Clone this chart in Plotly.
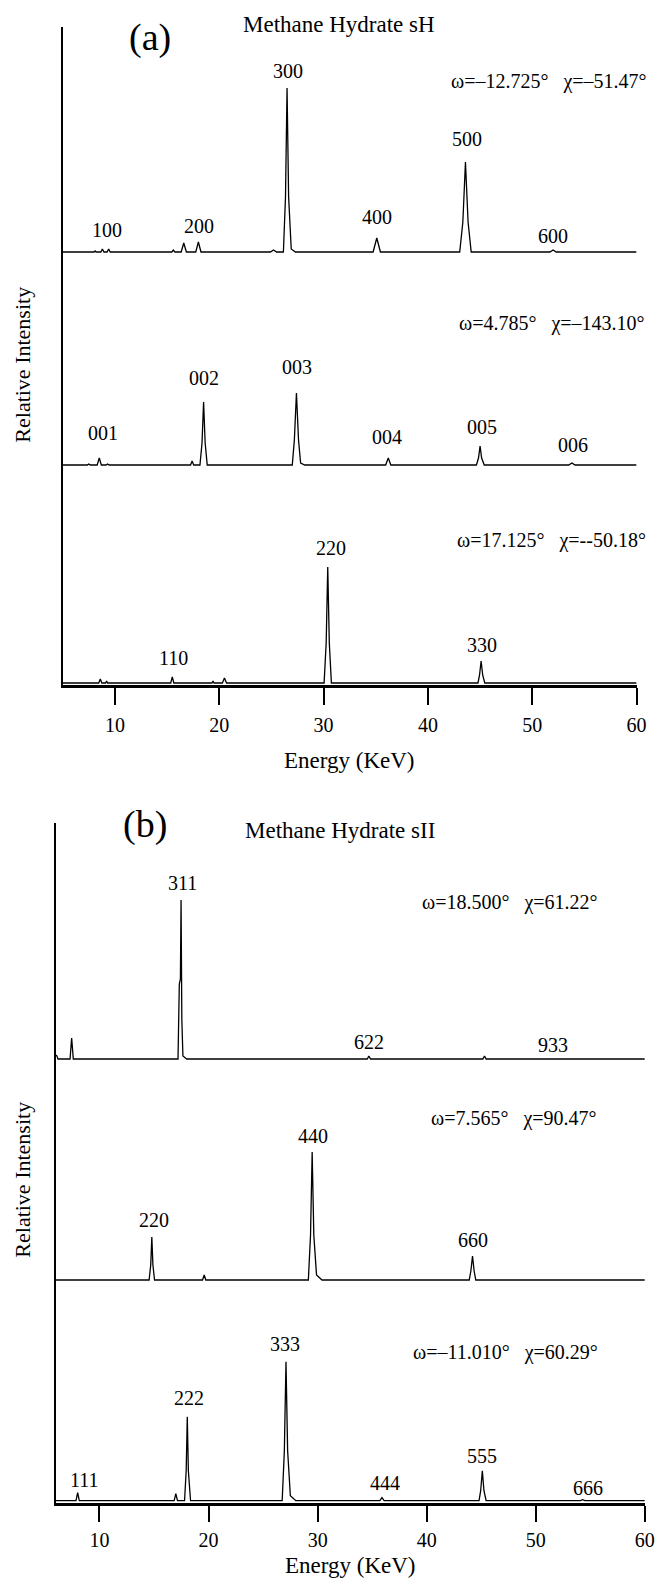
import plotly.graph_objects as go

# ---------------- data ----------------
# Panel (a): Methane Hydrate sH   (x: energy keV, y: relative intensity, arb. units)
a1_x = [5.0, 8.0, 8.1, 8.2, 8.65, 8.8, 8.95, 9.25, 9.4, 9.55, 15.45, 15.6, 15.75, 16.35, 16.6, 16.85,
        17.75, 18.0, 18.25, 24.9, 25.2, 25.5, 26.15, 26.35, 26.5, 26.65, 26.9, 27.3, 34.75, 35.1, 35.45,
        43.05, 43.35, 43.6, 43.85, 44.15, 51.7, 52.0, 52.3, 60.0]
a1_y = [0, 0, 1, 0, 0, 3, 0, 0, 3, 0, 0, 2, 0, 0, 9, 0,
        0, 10, 0, 0, 2, 0, 0, 55, 164, 55, 3, 0, 0, 14, 0,
        0, 30, 90, 30, 0, 0, 2, 0, 0]

a2_x = [5.0, 7.35, 7.5, 7.65, 8.3, 8.5, 8.7, 9.15, 9.3, 9.45, 17.25, 17.4, 17.55, 18.15, 18.35, 18.5,
        18.65, 18.85, 27.0, 27.2, 27.4, 27.6, 27.8, 28.2, 35.95, 36.2, 36.45, 44.65, 44.85, 45.0, 45.15,
        45.4, 53.5, 53.8, 54.1, 60.0]
a2_y = [0, 0, 1, 0, 0, 7, 0, 0, 1, 0, 0, 4, 0, 0, 22, 63,
        22, 0, 0, 25, 72, 25, 2, 0, 0, 7, 0, 0, 7, 19, 7,
        0, 0, 2, 0, 0]

a3_x = [5.0, 8.45, 8.6, 8.75, 9.1, 9.2, 9.3, 15.35, 15.5, 15.65, 19.3, 19.4, 19.5, 20.3, 20.5, 20.7,
        30.05, 30.25, 30.4, 30.55, 30.75, 44.8, 44.95, 45.1, 45.25, 45.45, 60.0]
a3_y = [0, 0, 4, 0, 0, 2, 0, 0, 6, 0, 0, 2, 0, 0, 5, 0,
        0, 40, 116, 40, 0, 0, 8, 22, 8, 0, 0]

# Panel (b): Methane Hydrate sII
b1_x = [6.0, 6.1, 6.2, 7.3, 7.45, 7.6, 17.2, 17.32, 17.42, 17.48, 17.55, 17.65, 18.0,
        34.55, 34.7, 34.85, 45.15, 45.3, 45.45, 60.0]
b1_y = [4, 3, 0, 0, 21, 0, 0, 75, 80, 159, 40, 3, 0,
        0, 3, 0, 0, 3, 0, 0]

b2_x = [6.0, 14.55, 14.7, 14.8, 14.9, 15.05, 19.45, 19.6, 19.75, 29.15, 29.35, 29.5, 29.65, 29.9,
        30.4, 43.9, 44.05, 44.2, 44.35, 44.5, 60.0]
b2_y = [0, 0, 15, 43, 15, 0, 0, 5, 0, 0, 45, 128, 45, 5,
        0, 0, 9, 24, 9, 0, 0]

b3_x = [6.0, 7.85, 8.0, 8.15, 16.85, 17.0, 17.15, 17.8, 17.95, 18.05, 18.15, 18.35, 26.75, 26.95,
        27.1, 27.25, 27.5, 28.0, 35.7, 35.9, 36.1, 44.8, 44.95, 45.1, 45.25, 45.45, 54.1, 54.3, 54.5, 60.0]
b3_y = [0, 0, 8, 0, 0, 7, 0, 0, 30, 84, 30, 0, 0, 50,
        139, 50, 5, 0, 0, 3, 0, 0, 10, 30, 10, 0, 0, 1, 0, 0]

# vertical offsets of the stacked spectra
a_offsets = [433, 220, 2]
b_offsets = [444, 223, 2.3]

# peak (hkl) labels: (label, energy, height of label in plot units)
a_labels = [("100", 9.2, 455), ("200", 18.1, 459), ("300", 26.6, 614), ("400", 35.1, 468),
            ("500", 43.7, 546), ("600", 52.0, 449),
            ("001", 8.9, 252), ("002", 18.5, 307), ("003", 27.5, 318), ("004", 36.1, 248),
            ("005", 45.2, 258), ("006", 53.9, 240),
            ("110", 15.6, 27), ("220", 30.7, 137), ("330", 45.2, 40)]
b_labels = [("311", 17.6, 620), ("622", 34.7, 461), ("933", 51.6, 458),
            ("220", 15.0, 283), ("440", 29.6, 367), ("660", 44.2, 263),
            ("111", 8.6, 23), ("222", 18.2, 105), ("333", 27.0, 159), ("444", 36.2, 20),
            ("555", 45.1, 47), ("666", 54.8, 15)]

a_angles = [("ω=–12.725°\u00a0\u00a0 χ=–51.47°", 51.6, 603),
            ("ω=4.785°\u00a0\u00a0 χ=–143.10°", 51.9, 361),
            ("ω=17.125°\u00a0\u00a0 χ=--50.18°", 51.8, 145)]
b_angles = [("ω=18.500°\u00a0\u00a0 χ=61.22°", 47.6, 601),
            ("ω=7.565°\u00a0\u00a0 χ=90.47°", 48.0, 385),
            ("ω=–11.010°\u00a0\u00a0 χ=60.29°", 47.2, 151)]

x_ticks = [10, 20, 30, 40, 50, 60]
a_xrange = [5, 60]
b_xrange = [6, 60]

# ---------------- figure ----------------
FONT = "Liberation Serif, Times New Roman, serif"
W, H = 664, 1580
fig = go.Figure()

line = dict(color="black", width=1.3)
for (xs, ys), off in zip([(a1_x, a1_y), (a2_x, a2_y), (a3_x, a3_y)], a_offsets):
    fig.add_trace(go.Scatter(x=xs, y=[v + off for v in ys], mode="lines", line=line,
                             xaxis="x", yaxis="y", showlegend=False, hoverinfo="skip"))
for (xs, ys), off in zip([(b1_x, b1_y), (b2_x, b2_y), (b3_x, b3_y)], b_offsets):
    fig.add_trace(go.Scatter(x=xs, y=[v + off for v in ys], mode="lines", line=line,
                             xaxis="x2", yaxis="y2", showlegend=False, hoverinfo="skip"))

def px(x):
    return x / W

def py(y):
    return 1 - y / H

xa = dict(tickmode="array", tickvals=x_ticks, ticks="outside", tickwidth=1.6,
          tickcolor="black", showline=True, linecolor="black", linewidth=2.6, showgrid=False,
          zeroline=False, tickfont=dict(family=FONT, size=20, color="black"))
ya = dict(showline=True, linecolor="black", linewidth=1.5, showgrid=False, zeroline=False,
          showticklabels=False, ticks="")

fig.update_layout(
    width=W, height=H, margin=dict(l=0, r=0, t=0, b=0),
    paper_bgcolor="white", plot_bgcolor="white",
    xaxis=dict(xa, domain=[px(63.7), px(646.3)], range=a_xrange, anchor="y",
               ticklen=17, ticklabelstandoff=3),
    yaxis=dict(ya, domain=[py(685), py(27)], range=[0, 658], anchor="x"),
    xaxis2=dict(xa, domain=[px(56.7), px(654.7)], range=b_xrange, anchor="y2",
                ticklen=16, ticklabelstandoff=1),
    yaxis2=dict(ya, domain=[py(1503), py(823)], range=[0, 680], anchor="x2"),
)

ann = []
tf = dict(family=FONT, size=20, color="black")
for t, x, y in a_labels:
    ann.append(dict(text=t, x=x, y=y, xref="x", yref="y", font=tf))
for t, x, y in b_labels:
    ann.append(dict(text=t, x=x, y=y, xref="x2", yref="y2", font=tf))
for t, x, y in a_angles:
    ann.append(dict(text=t, x=x, y=y, xref="x", yref="y", font=tf))
for t, x, y in b_angles:
    ann.append(dict(text=t, x=x, y=y, xref="x2", yref="y2", font=tf))

# panel letters, titles, axis titles
ann += [
    dict(text="(a)", x=px(152), y=py(37), xref="paper", yref="paper",
         font=dict(family=FONT, size=38, color="black")),
    dict(text="Methane Hydrate sH", x=px(344), y=py(25), xref="paper", yref="paper",
         font=dict(family=FONT, size=23, color="black")),
    dict(text="(b)", x=px(147), y=py(824), xref="paper", yref="paper",
         font=dict(family=FONT, size=38, color="black")),
    dict(text="Methane Hydrate sII", x=px(345), y=py(830), xref="paper", yref="paper",
         font=dict(family=FONT, size=23, color="black")),
    dict(text="Energy (KeV)", x=px(355), y=py(760), xref="paper", yref="paper",
         font=dict(family=FONT, size=23, color="black")),
    dict(text="Energy (KeV)", x=px(356), y=py(1565), xref="paper", yref="paper",
         font=dict(family=FONT, size=23, color="black")),
    dict(text="Relative Intensity", x=px(22), y=py(365), xref="paper", yref="paper",
         textangle=-90, font=dict(family=FONT, size=22, color="black")),
    dict(text="Relative Intensity", x=px(22), y=py(1180), xref="paper", yref="paper",
         textangle=-90, font=dict(family=FONT, size=22, color="black")),
]
for a in ann:
    a.update(showarrow=False, xanchor="center", yanchor="middle")
fig.update_layout(annotations=ann)

# remove the default page margin so the figure fills the 664x1580 window exactly
fig.write_html("out.html", config={"displayModeBar": False},
               post_script="document.body.style.margin='0px';")
